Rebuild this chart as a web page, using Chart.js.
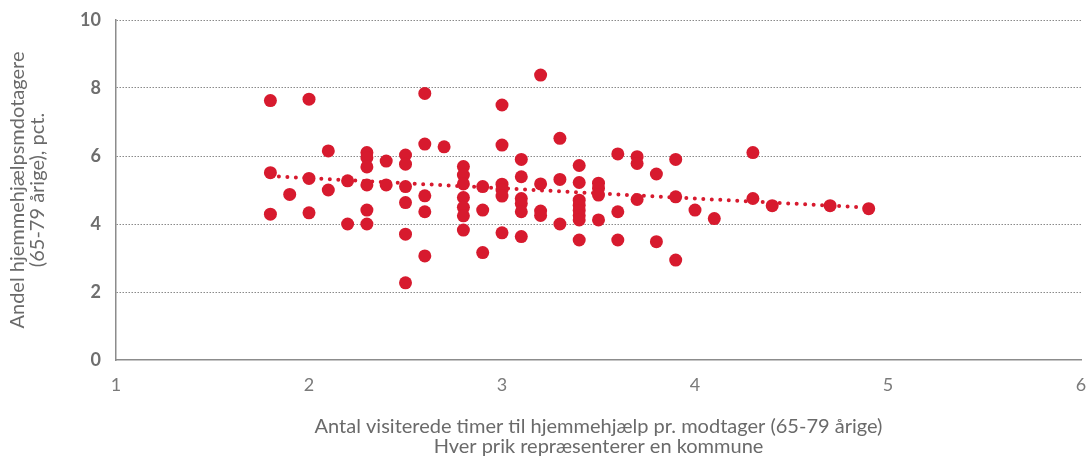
<!DOCTYPE html>
<html>
<head>
<meta charset="utf-8">
<script src="https://cdn.jsdelivr.net/npm/chart.js@4.4.1/dist/chart.umd.min.js"></script>
<style>
  html, body { margin: 0; padding: 0; background: #fff; }
  #wrap { width: 1088px; height: 461px; position: relative; }
</style>
</head>
<body>
<div id="wrap"><canvas id="chart"></canvas></div>
<script>
// Hours per recipient (x) and share of home-help recipients in pct (y), one entry per municipality
const hoursX = [
  1.8, 1.8, 1.8,
  1.9,
  2.0, 2.0, 2.0,
  2.1, 2.1,
  2.2, 2.2,
  2.3, 2.3, 2.3, 2.3, 2.3, 2.3,
  2.4, 2.4,
  2.5, 2.5, 2.5, 2.5, 2.5, 2.5,
  2.6, 2.6, 2.6, 2.6, 2.6,
  2.7,
  2.8, 2.8, 2.8, 2.8, 2.8, 2.8, 2.8,
  2.9, 2.9, 2.9,
  3.0, 3.0, 3.0, 3.0, 3.0, 3.0,
  3.1, 3.1, 3.1, 3.1, 3.1, 3.1,
  3.2, 3.2, 3.2, 3.2,
  3.3, 3.3, 3.3,
  3.4, 3.4, 3.4, 3.4, 3.4, 3.4, 3.4, 3.4,
  3.5, 3.5, 3.5, 3.5,
  3.6, 3.6, 3.6,
  3.7, 3.7, 3.7,
  3.8, 3.8,
  3.9, 3.9, 3.9,
  4.0,
  4.1,
  4.3, 4.3,
  4.4,
  4.7,
  4.9
];
const shareY = [
  7.63, 5.51, 4.29,
  4.87,
  7.67, 5.34, 4.33,
  6.15, 5.0,
  5.27, 4.0,
  6.1, 5.95, 5.68, 5.15, 4.41, 4.0,
  5.85, 5.15,
  6.03, 5.76, 5.1, 4.63, 3.7, 2.27,
  7.84, 6.35, 4.83, 4.36, 3.06,
  6.27,
  5.69, 5.44, 5.18, 4.78, 4.49, 4.24, 3.82,
  5.1, 4.41, 3.16,
  7.5, 6.32, 5.17, 5.0, 4.82, 3.74,
  5.9, 5.39, 4.75, 4.6, 4.36, 3.63,
  8.38, 5.18, 4.38, 4.25,
  6.52, 5.31, 4.0,
  5.72, 5.22, 4.7, 4.55, 4.4, 4.25, 4.12, 3.53,
  5.2, 5.05, 4.85, 4.12,
  6.06, 4.36, 3.53,
  5.98, 5.78, 4.72,
  5.47, 3.48,
  5.9, 4.8, 2.94,
  4.41,
  4.16,
  6.1, 4.75,
  4.54,
  4.54,
  4.45
];

// Dotted trend line endpoints
const trendX = [1.8, 4.9];
const trendY = [5.41, 4.48];

const yTicks = [0, 2, 4, 6, 8, 10];
const xTicks = [1, 2, 3, 4, 5, 6];

const RED = '#d71a2e';
const FONT = 'Lato, "Open Sans", sans-serif';

const points = hoursX.map((x, i) => ({ x: x, y: shareY[i] }));
const trend = trendX.map((x, i) => ({ x: x, y: trendY[i] }));

new Chart(document.getElementById('chart'), {
  type: 'scatter',
  data: {
    datasets: [
      {
        label: 'Kommuner',
        data: points,
        backgroundColor: RED,
        borderColor: RED,
        borderWidth: 0,
        pointRadius: 6.5,
        pointHoverRadius: 6.5
      },
      {
        label: 'Trend',
        data: trend,
        showLine: true,
        pointRadius: 0,
        borderColor: RED,
        borderWidth: 4,
        borderDash: [0, 8.5],
        borderCapStyle: 'round'
      }
    ]
  },
  options: {
    responsive: true,
    maintainAspectRatio: false,
    animation: false,
    layout: { padding: { top: 20, right: 7, left: 0, bottom: 0 } },
    plugins: {
      legend: { display: false },
      tooltip: { enabled: false }
    },
    scales: {
      x: {
        min: 1,
        max: 6,
        afterBuildTicks: axis => { axis.ticks = xTicks.map(v => ({ value: v })); },
        afterFit: axis => {
          axis.height = 101;
          axis.paddingLeft = 0;
          axis.paddingRight = 0;
        },
        grid: { display: false, drawTicks: false },
        border: { display: true, color: '#8c8c8c', width: 1.5 },
        ticks: {
          padding: 14,
          color: '#7a7a7a',
          font: { family: FONT, size: 18 }
        },
        title: {
          display: true,
          text: ['Antal visiterede timer til hjemmehjælp pr. modtager (65-79 årige)', 'Hver prik repræsenterer en kommune'],
          color: '#6a6a6a',
          font: { family: FONT, size: 20, lineHeight: 1.0 },
          padding: { top: 26 }
        }
      },
      y: {
        min: 0,
        max: 10,
        afterBuildTicks: axis => { axis.ticks = yTicks.map(v => ({ value: v })); },
        afterFit: axis => {
          axis.width = 116;
          axis.paddingTop = 0;
          axis.paddingBottom = 0;
        },
        grid: {
          color: ctx => ctx.tick && ctx.tick.value === 0 ? 'rgba(0,0,0,0)' : '#8a8a8a',
          lineWidth: 1,
          drawTicks: false
        },
        border: { display: true, color: '#8c8c8c', width: 1.5, dash: [1.5, 1.5] },
        ticks: {
          padding: 15,
          color: '#6e6e6e',
          font: { family: FONT, size: 18, weight: 'bold' }
        },
        title: {
          display: true,
          text: ['Andel hjemmehjælpsmdotagere', '(65-79 årige), pct.'],
          color: '#6a6a6a',
          font: { family: FONT, size: 20, lineHeight: 1.0 },
          padding: { top: 8, bottom: 4 }
        }
      }
    }
  }
});
</script>
</body>
</html>
